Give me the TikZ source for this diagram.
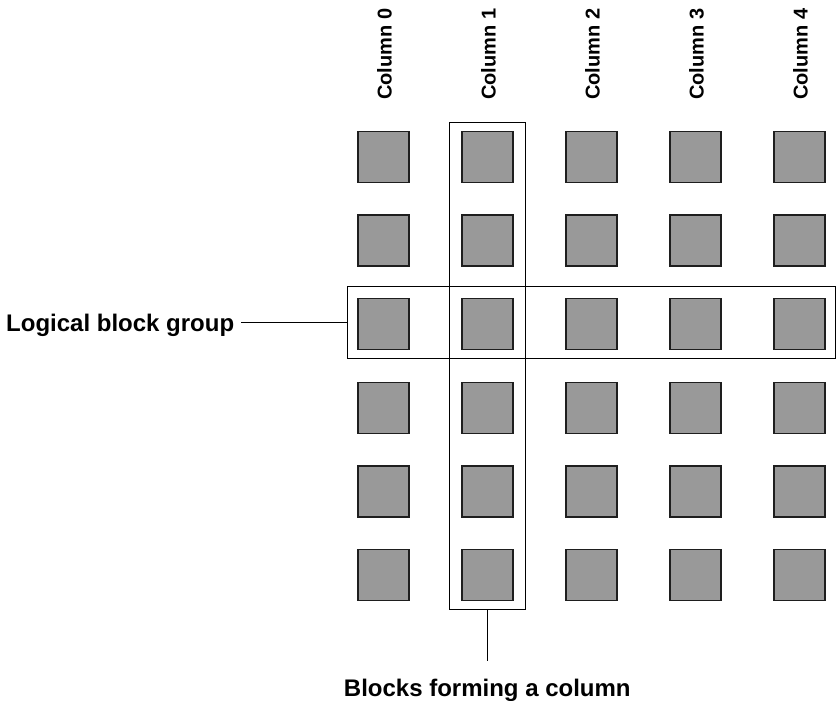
\documentclass[tikz,border=0pt]{standalone}
\usepackage{fontspec}
\setmainfont{Liberation Sans}
\definecolor{sqfill}{RGB}{153,153,153}
\definecolor{sqdraw}{RGB}{30,30,30}
\begin{document}
\begin{tikzpicture}[x=1pt,y=-1pt,
  blk/.style={draw=sqdraw,fill=sqfill,line width=1.4pt,minimum width=51pt,minimum height=51pt,inner sep=0pt},
  grp/.style={draw=black,line width=1pt,inner sep=0pt},
  big/.style={font=\bfseries\fontsize{24}{28}\selectfont,inner sep=0pt},
  coltxt/.style={font=\bfseries\fontsize{20}{24}\selectfont,inner sep=0pt,rotate=90,anchor=base west},
  conn/.style={draw=black,line width=1pt}]
\useasboundingbox (0,0) rectangle (836,701);
% group boxes
\node[grp,minimum width=487.3pt,minimum height=71.6pt] (rowbox) at (591.35,322.5) {};
\node[grp,minimum width=76.7pt,minimum height=487pt] (colbox) at (487.35,365.8) {};
% blocks
\foreach \c in {0,...,4}{
  \foreach \r in {0,...,5}{
    \node[blk] (b\r\c) at ({383.6+104*\c},{157+83.6*\r}) {};
  }
  \node[coltxt] (col\c) at ({391.7+104*\c},100) {Column \c};
}
% labels
\node[big,anchor=base west] (lg) at (6,331) {Logical block group};
\node[big,anchor=base] (bf) at (487.3,696) {Blocks forming a column};
\coordinate (lgend) at ([xshift=7pt]lg.east |- rowbox.west);
\coordinate (bfend) at (colbox.south |- 0,661);
\draw[conn] (lgend) -- (rowbox.west);
\draw[conn] (colbox.south) -- (bfend);
\end{tikzpicture}
\end{document}
